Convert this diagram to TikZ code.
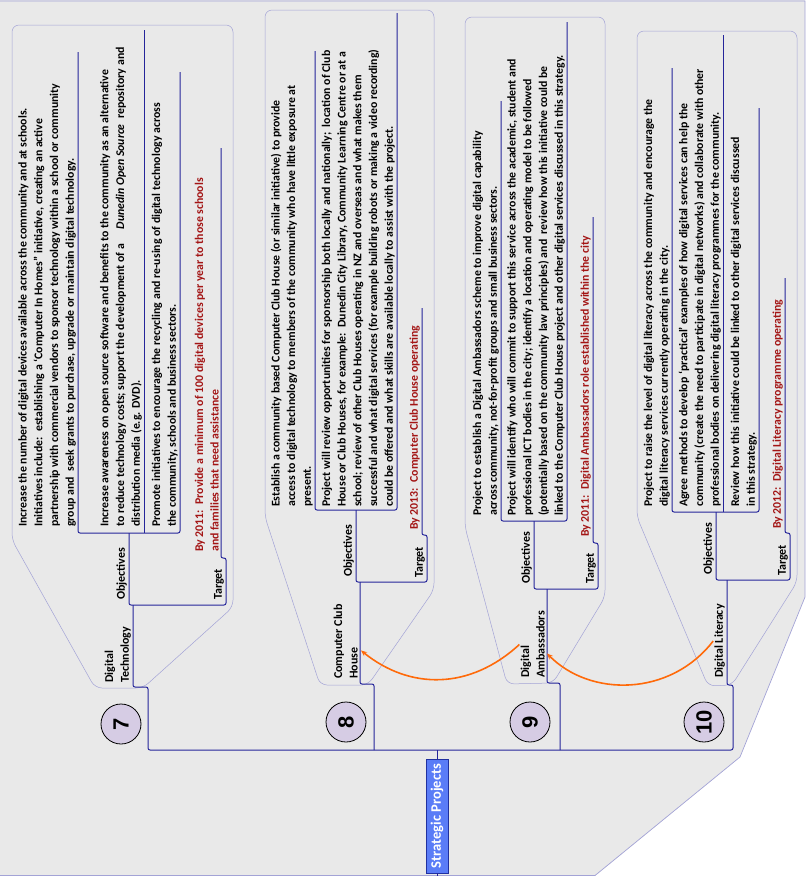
\documentclass[tikz,border=0pt]{standalone}
\usepackage{fontspec}
\setmainfont{Carlito}
\newfontfamily\numfam{Liberation Sans}
\usetikzlibrary{arrows.meta,calc}
\definecolor{paper}{HTML}{E9E9E9}
\definecolor{rim}{HTML}{A3A3D6}
\definecolor{wire}{HTML}{25259A}
\definecolor{goalred}{HTML}{A31515}
\definecolor{numfill}{HTML}{D6CCE4}
\definecolor{hubfill}{HTML}{5A7CF7}
\definecolor{hubline}{HTML}{2030A0}
\definecolor{linkorange}{HTML}{FF6A0A}
\newcommand{\bodyfont}{\fontsize{11.8}{15.7}\selectfont\bfseries}
\newcommand{\tagfont}{\fontsize{12}{15.7}\selectfont\bfseries}
\tikzset{
    item/.style={
        rotate=90,
        anchor=south west,
        align=left,
        inner sep=1pt,
        font=\bodyfont
    },
    goal/.style={item, text=goalred},
    tag/.style={
        rotate=90,
        anchor=south west,
        align=left,
        inner sep=1pt,
        font=\tagfont
    },
    branch/.style={draw=wire, line width=1pt, rounded corners=2pt},
    callout/.style={draw=rim, line width=0.5pt, rounded corners=7pt},
    num/.style={
        circle,
        draw,
        line width=0.8pt,
        fill=numfill,
        minimum size=40pt,
        inner sep=0pt,
        rotate=90,
        font=\numfam\bfseries\fontsize{22}{22}\selectfont
    },
    hub/.style={
        draw=hubline,
        fill=hubfill,
        text=white,
        rotate=90,
        minimum width=114pt,
        minimum height=22pt,
        inner sep=1pt,
        font=\fontsize{14.5}{16}\selectfont\bfseries
    },
    link/.style={-{Stealth[length=6pt,width=5pt]}, draw=linkorange, line width=1.6pt}
}

\begin{document}
\begin{tikzpicture}[x=1pt,y=-1pt]
    \useasboundingbox (0,0) rectangle (811,876);
    \fill[paper] (0,0) -- (805,0) -- (805,597) -- (740,757) -- (595,876) -- (0,876) -- cycle;
    \draw[rim, line width=0.7pt] (0,1) -- (805,1) -- (805,597) -- (740,757) -- (595,875.5) -- (0,875.5);

    \draw[callout] (95,688) -- (12,540) -- (12,25) -- (233,25) -- (233,607) -- (143,688) -- cycle;
    \draw[callout] (320,685) -- (265,517) -- (265,10) -- (434,10) -- (434,590) -- (368,685) -- cycle;
    \draw[callout] (507,684) -- (465,527) -- (465,17) -- (605,17) -- (605,597) -- (553,683) -- cycle;
    \draw[callout] (708,686) -- (637,517) -- (637,31) -- (797,31) -- (797,582) -- (732,685) -- cycle;

    \node[hub] (hub) at (437,816) {Strategic Projects};
    \coordinate (j8) at (374,750);
    \coordinate (j9) at (560,750);
    \draw[branch] (hub.east) -- (hub.east |- j8);
    \draw[branch] (hub.west) -- (437,876);

    \draw[branch] (133,605) -- (133,687) -- (148,687) -- (148,750) -- (733,750) -- (733,685) -- (727,685) -- (727,580);
    \draw[branch] (j8) -- (374,684) -- (360,684) -- (360,582);
    \draw[branch] (j9) -- (560,683) -- (547,683) -- (547,589);

    \draw[branch] (221,148) -- (221,558) -- (226,558) -- (226,605) -- (129,605) -- (129,533);
    \draw[branch] (78,52) -- (78,533) -- (180,533) -- (180,72);
    \draw[branch] (144,30) -- (144,533);
    \draw[branch] (422,308) -- (422,535) -- (427,535) -- (427,582) -- (356,582) -- (356,510);
    \draw[branch] (315,51) -- (315,510) -- (397,510) -- (397,13);
    \draw[branch] (593,217) -- (593,543) -- (598,543) -- (598,589) -- (534,589) -- (534,521);
    \draw[branch] (501,101) -- (501,521) -- (567,521) -- (567,22);
    \draw[branch] (785,278) -- (785,533) -- (790,533) -- (790,580) -- (716,580) -- (716,512);
    \draw[branch] (672,68) -- (672,512) -- (759,512) -- (759,108);
    \draw[branch] (723,35) -- (723,512);

    \node[num] (n7) at (121,724) {7};
    \node[num] (n8) at (346,722) {8};
    \node[num] (n9) at (530,722) {9};
    \node[num] (n10) at (704,722) {10};

    \node[tag] (lab7) at (132,684) {Digital\\Technology};
    \node[tag] (lab8) at (359,680) {Computer Club\\House};
    \node[tag] (lab9) at (546,679) {Digital\\Ambassadors};
    \node[tag] (lab10) at (726,679) {Digital Literacy};

    \node[tag] (ob7) at (128,601) {Objectives};
    \node[tag] (tg7) at (225,601) {Target};
    \node[tag] (ob8) at (355,578) {Objectives};
    \node[tag] (tg8) at (426,579) {Target};
    \node[tag] (ob9) at (533,585) {Objectives};
    \node[tag] (tg9) at (597,585) {Target};
    \node[tag] (ob10) at (715,576) {Objectives};
    \node[tag] (tg10) at (789,577) {Target};

    \node[item] (it71) at (77,528) {Increase the number of digital devices available across the community and at schools.\\
        Initiatives include:\ \ establishing a ‘Computer In Homes” initiative, creating an active\\
        partnership with commercial vendors to sponsor technology within a school or community\\
        group and\ \ seek grants to purchase, upgrade or maintain digital technology.};
    \node[item] (it72) at (143,528) {Increase awareness on open source software and benefits to the community as an alternative\\
        to reduce technology costs; support the development of a \quad\textit{Dunedin Open Source}\ \ repository and\\
        distribution media (e.g. DVD).};
    \node[item] (it73) at (179,528) {Promote initiatives to encourage the recycling and re-using of digital technology across\\
        the community, schools and business sectors.};
    \node[goal] (g7) at (220,553) {By 2011:\ \ Provide a minimum of 100 digital devices per year to those schools\\
        and families that need assistance};

    \node[item] (it81) at (314,508) {Establish a community based Computer Club House (or similar initiative) to provide\\
        access to digital technology to members of the community who have little exposure at\\
        present.};
    \node[item] (it82) at (396,508) {Project will review opportunities for sponsorship both locally and nationally;\ \ location of Club\\
        House or Club Houses, for example:\ \ Dunedin City Library, Community Learning Centre or at a\\
        school; review of other Club Houses operating in NZ and overseas and what makes them\\
        successful and what digital services (for example building robots or making a video recording)\\
        could be offered and what skills are available locally to assist with the project.};
    \node[goal] (g8) at (421,531) {By 2013:\ \ Computer Club House operating};

    \node[item] (it91) at (500,517) {Project to establish a Digital Ambassadors scheme to improve digital capability\\
        across community, not-for-profit groups and small business sectors.};
    \node[item] (it92) at (566,517) {Project will identify who will commit to support this service across the academic, student and\\
        professional ICT bodies in the city; identify a location and operating model to be followed\\
        (potentially based on the community law principles) and\ \ review how this initiative could be\\
        linked to the Computer Club House project and other digital services discussed in this strategy.};
    \node[goal] (g9) at (592,538) {By 2011:\ \ Digital Ambassadors role established within the city};

    \node[item] (it101) at (671,508) {Project to raise the level of digital literacy across the community and encourage the\\
        digital literacy services currently operating in the city.};
    \node[item] (it102) at (722,508) {Agree methods to develop ‘practical’ examples of how digital services can help the\\
        community (create the need to participate in digital networks) and collaborate with other\\
        professional bodies on delivering digital literacy programmes for the community.};
    \node[item] (it103) at (758,508) {Review how this initiative could be linked to other digital services discussed\\
        in this strategy.};
    \node[goal] (g10) at (784,530) {By 2012:\ \ Digital Literacy programme operating};

    \draw[link] (lab9.north) .. controls (470,690) and (410,690) .. ($(lab8.south)+(2,9)$);
    \draw[link] (lab10.north) .. controls (670,697) and (590,697) .. ($(lab9.south)+(1,9)$);
\end{tikzpicture}
\end{document}
